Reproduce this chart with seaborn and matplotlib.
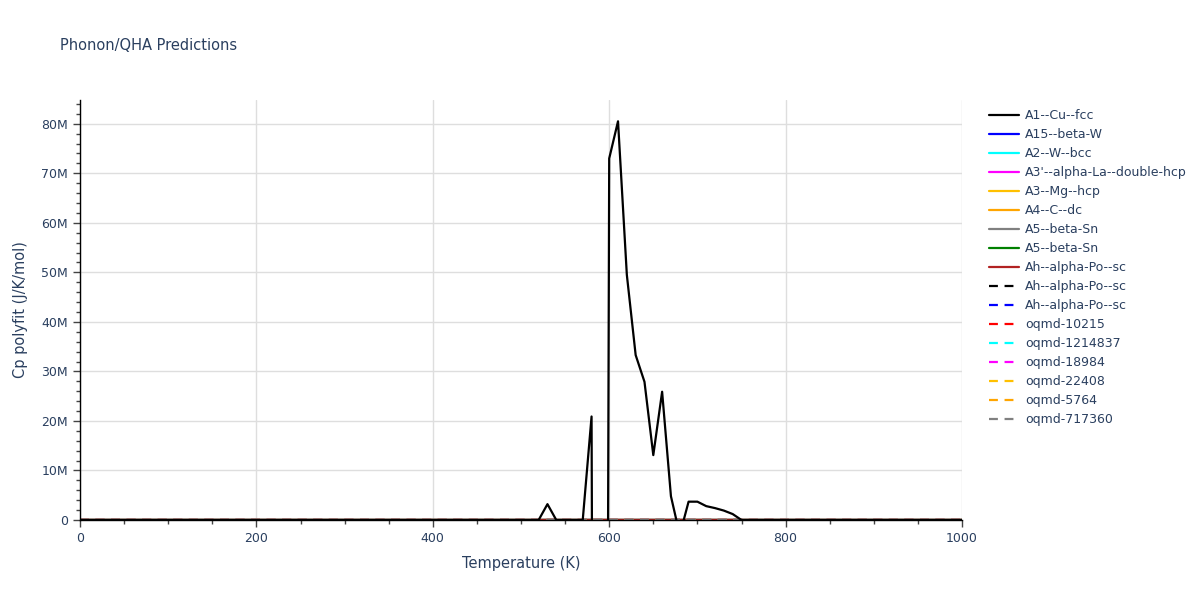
import numpy as np
import pandas as pd
import matplotlib
matplotlib.use("Agg")
import matplotlib.pyplot as plt
from matplotlib.ticker import FuncFormatter, MultipleLocator
import seaborn as sns

sns.set_theme(style="white")
plt.rcParams['font.family'] = ['DejaVu Sans']

TEXT = '#2a3f5f'

# Temperatures (K) and Cp polyfit (J/K/mol) for the one structure that blows up
temps_cu = [0, 100, 200, 300, 400, 500, 520, 530, 540, 570, 580, 590, 600, 610, 620,
            630, 640, 650, 660, 670, 680, 690, 700, 710, 720, 730, 740, 750, 800, 900, 1000]
cp_cu = [0, 24, 25, 25, 26, 26, 0, 3.2e6, 0, 0, 20.9e6, -500e6, 73.0e6, 80.5e6, 49.5e6,
         33.3e6, 27.9e6, 13.1e6, 25.9e6, 4.8e6, -3.0e6, 3.7e6, 3.7e6, 2.8e6, 2.4e6,
         1.9e6, 1.2e6, 0, 30, 30, 30]

# Every other structure stays at ordinary Cp values (invisible at this scale)
temps_other = [0, 100, 200, 400, 600, 800, 1000]
cp_other = [0, 16, 22, 24, 25, 26, 27]

labels = ["A1--Cu--fcc", "A15--beta-W", "A2--W--bcc", "A3'--alpha-La--double-hcp",
          "A3--Mg--hcp", "A4--C--dc", "A5--beta-Sn", "A5--beta-Sn", "Ah--alpha-Po--sc",
          "Ah--alpha-Po--sc", "Ah--alpha-Po--sc", "oqmd-10215", "oqmd-1214837",
          "oqmd-18984", "oqmd-22408", "oqmd-5764", "oqmd-717360"]
colors = ["black", "blue", "cyan", "magenta", "#FFC000", "orange", "grey", "green", "#B22222",
          "black", "blue", "red", "cyan", "magenta", "#FFC000", "orange", "grey"]
dashed = [False] * 9 + [True] * 8

fig = plt.figure(figsize=(12, 6), dpi=100)
ax = fig.add_axes([80 / 1200, 80 / 600, 882 / 1200, 420 / 600])

for i, (lab, col, dsh) in enumerate(zip(labels, colors, dashed)):
    if i == 0:
        df = pd.DataFrame({"T": temps_cu, "Cp": cp_cu})
    else:
        df = pd.DataFrame({"T": temps_other, "Cp": cp_other})
    sns.lineplot(data=df, x="T", y="Cp", ax=ax, color=col, linewidth=1.6,
                 label=lab, zorder=3 if i == 0 else 2)
    if dsh:
        ax.lines[-1].set_dashes([4, 3])

ax.set_xlim(0, 1000)
ax.set_ylim(0, 84.8e6)
ax.xaxis.set_major_locator(MultipleLocator(200))
ax.xaxis.set_minor_locator(MultipleLocator(50))
ax.yaxis.set_major_locator(MultipleLocator(10e6))
ax.yaxis.set_minor_locator(MultipleLocator(2e6))
ax.yaxis.set_major_formatter(FuncFormatter(lambda v, p: "0" if v == 0 else f"{v / 1e6:.0f}M"))
ax.grid(True, which='major', color='#dedede', linewidth=1)
ax.set_axisbelow(True)
for s in ['top', 'right']:
    ax.spines[s].set_visible(False)
for s in ['left', 'bottom']:
    ax.spines[s].set_color('black')
    ax.spines[s].set_linewidth(1)
ax.tick_params(which='major', direction='out', length=5, width=1, color='#444',
               labelsize=9, labelcolor=TEXT, left=True, bottom=True)
ax.tick_params(which='minor', direction='out', length=3, width=1, color='#444',
               left=True, bottom=True)
ax.set_xlabel("Temperature (K)", fontsize=10.5, color=TEXT, labelpad=8)
ax.set_ylabel("Cp polyfit (J/K/mol)", fontsize=10.5, color=TEXT, labelpad=10)

fig.text(60 / 1200, 1 - 45 / 600, "Phonon/QHA Predictions", fontsize=10.5, color=TEXT,
         va='center', ha='left')

leg = ax.legend(loc='upper left', bbox_to_anchor=(984 / 1200, 1 - 104 / 600),
                bbox_transform=fig.transFigure, frameon=False, fontsize=9,
                handlelength=2.4, labelspacing=0.48, borderaxespad=0, handletextpad=0.5)
for t in leg.get_texts():
    t.set_color(TEXT)
for h in leg.get_lines():
    h.set_linewidth(1.6)

fig.savefig("out.png", dpi=100)
